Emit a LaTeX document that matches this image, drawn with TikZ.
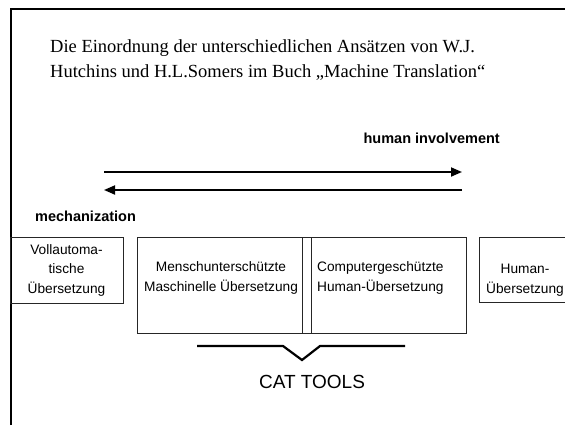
\documentclass[tikz,border=0pt]{standalone}
\usepackage{fontspec}
\setmainfont{Liberation Serif}
\newfontfamily\arial{Liberation Sans}
\usetikzlibrary{arrows.meta}

\begin{document}
\begin{tikzpicture}[x=1pt,y=-1pt,
  boxframe/.style={draw=black!85, line width=0.9pt, inner sep=0pt, outer sep=0pt, anchor=north west},
  boxtext/.style={font=\arial\fontsize{13.7}{19.5}\selectfont, align=center, inner sep=0pt},
  headline/.style={font=\arial\bfseries\fontsize{14.5}{16}\selectfont, inner sep=0pt},
  bigarrow/.style={line width=1.8pt, -{Triangle[length=11pt,width=9pt]}},
  bracket/.style={line width=2.2pt, line join=miter}]
  \useasboundingbox (0,0) rectangle (565,426);

  % page frame
  \coordinate (frameBottom) at (11,425);
  \coordinate (frameRight) at (566,9);
  \draw[line width=1.3pt] (frameBottom) |- (frameRight);

  % title
  \node[anchor=west, align=left, inner sep=0pt,
        font=\fontsize{18.5}{24.5}\selectfont] (title) at (50,60)
    {Die Einordnung der unterschiedlichen Ansätzen von W.J.\\
     Hutchins und H.L.Somers im Buch „Machine Translation“};

  % direction arrows
  \node[headline, anchor=east] (human) at (500,138) {human involvement};
  \coordinate (upL) at (104,172);
  \coordinate (upR) at (462,172);
  \coordinate (loL) at (104,190);
  \coordinate (loR) at (462,190);
  \draw[bigarrow] (upL) -- (upR);
  \draw[bigarrow] (loR) -- (loL);
  \node[headline, anchor=west] (mech) at (35,216) {mechanization};

  % boxes
  \node[boxframe, minimum width=113pt, minimum height=66pt] (voll) at (10,237) {};
  \node[boxtext] (vollText) at (voll.center) {Vollautoma-\\tische\\Übersetzung};

  \node[boxframe, minimum width=165pt, minimum height=96pt] (mask) at (137,237) {};
  \node[boxframe, minimum width=9pt, minimum height=96pt] (slim) at (302,237) {};
  \node[boxframe, minimum width=155pt, minimum height=96pt] (comp) at (311,237) {};
  \node[boxtext] (maskText) at (221,278) {Menschunterschützte\\Maschinelle Übersetzung};
  \node[boxtext, anchor=west] (compText) at (317,278) {Computergeschützte\\Human-Übersetzung};

  \node[boxframe, minimum width=90pt, minimum height=65pt] (hum) at (479,237) {};
  \node[boxtext] (humText) at (525,280) {Human-\\Übersetzung};

  % bracket under the boxes
  \coordinate (brL) at (197,346);
  \coordinate (brVL) at (283,346);
  \coordinate (brV) at (302,360);
  \coordinate (brVR) at (320,346);
  \coordinate (brR) at (405,346);
  \draw[bracket] (brL) -- (brVL) -- (brV) -- (brVR) -- (brR);
  \node[font=\arial\fontsize{19}{22}\selectfont, inner sep=0pt] (cat) at (312,382) {CAT TOOLS};
\end{tikzpicture}
\end{document}
